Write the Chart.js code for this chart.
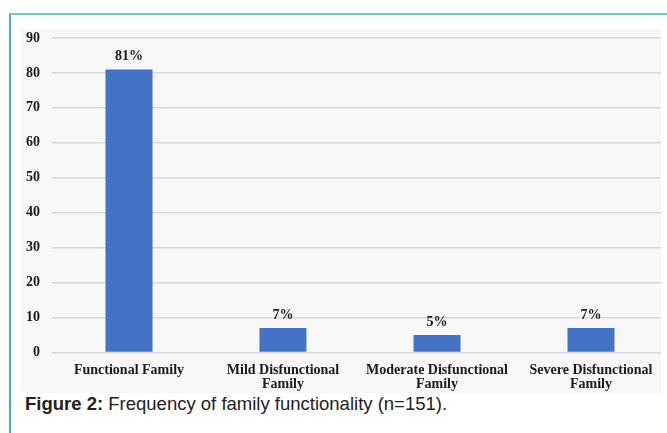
<!DOCTYPE html>
<html lang="en">
<head>
    <meta charset="UTF-8">
    <title>Frequency of family functionality</title>
    <script src="https://cdn.jsdelivr.net/npm/chart.js"></script>
    <style>
        body {
            margin: 0;
            background: #ffffff;
            width: 667px;
            height: 433px;
            overflow: hidden;
            position: relative;
        }

        .frame {
            position: absolute;
            left: 9px;
            top: 13px;
            width: 660px;
            height: 430px;
            border-top: 2px solid #6fcfc1;
            border-left: 2px solid #3fb9a3;
        }

        .chart-box {
            position: absolute;
            left: 20px;
            top: 29px;
            width: 641px;
            height: 364px;
            background: #f7f7f7;
            overflow: hidden;
        }

        /* canvas is a little larger than the grey box and clipped by it */
        .chart-box canvas {
            position: absolute;
            left: 0;
            top: -10px;
        }

        .caption {
            position: absolute;
            left: 25px;
            top: 393px;
            font-family: "Liberation Sans", Arial, sans-serif;
            font-size: 18.5px;
            color: #222;
            white-space: nowrap;
        }
    </style>
</head>
<body>
    <div class="frame"></div>
    <div class="chart-box">
        <canvas id="familyChart" width="648" height="374" style="width:648px;height:374px"></canvas>
    </div>
    <div class="caption"><b>Figure 2:</b> Frequency of family functionality (n=151).</div>

    <script>
        const categories = [
            ['Functional Family'],
            ['Mild Disfunctional', 'Family'],
            ['Moderate Disfunctional', 'Family'],
            ['Severe Disfunctional', 'Family']
        ];
        const percentValues = [81, 7, 5, 7];
        const yTicks = [0, 10, 20, 30, 40, 50, 60, 70, 80, 90];

        const serifBold = { family: '"Liberation Serif", "Times New Roman", serif', size: 14, weight: 'bold', lineHeight: 1.0 };

        // value labels above the bars
        const barLabels = {
            id: 'barLabels',
            afterDatasetsDraw(chart) {
                const ctx = chart.ctx;
                const meta = chart.getDatasetMeta(0);
                ctx.save();
                ctx.font = 'bold 14px "Liberation Serif", "Times New Roman", serif';
                ctx.fillStyle = '#1a1a1a';
                ctx.textAlign = 'center';
                ctx.textBaseline = 'middle';
                meta.data.forEach((bar, i) => {
                    ctx.fillText(percentValues[i] + '%', bar.x, bar.y - 13);
                });
                ctx.restore();
            }
        };

        new Chart(document.getElementById('familyChart'), {
            type: 'bar',
            data: {
                labels: categories,
                datasets: [{
                    data: percentValues,
                    backgroundColor: '#4472c4',
                    borderWidth: 0,
                    barPercentage: 0.305,
                    categoryPercentage: 1
                }]
            },
            options: {
                responsive: false,
                animation: false,
                layout: { padding: 0 },
                plugins: {
                    legend: { display: false },
                    tooltip: { enabled: false }
                },
                scales: {
                    x: {
                        grid: { display: false, drawTicks: false },
                        border: { display: false },
                        ticks: {
                            font: serifBold,
                            color: '#1a1a1a',
                            padding: 11,
                            maxRotation: 0,
                            autoSkip: false
                        },
                        afterFit(scale) { scale.height = 40.5; }
                    },
                    y: {
                        min: 0,
                        max: 90,
                        afterBuildTicks(scale) { scale.ticks = yTicks.map(v => ({ value: v })); },
                        grid: { color: '#d9d9d9', lineWidth: 1.5, drawTicks: false },
                        border: { display: false },
                        ticks: {
                            font: serifBold,
                            color: '#1a1a1a',
                            padding: 12
                        },
                        afterFit(scale) { scale.width = 32; }
                    }
                }
            },
            plugins: [barLabels]
        });
    </script>
</body>
</html>
